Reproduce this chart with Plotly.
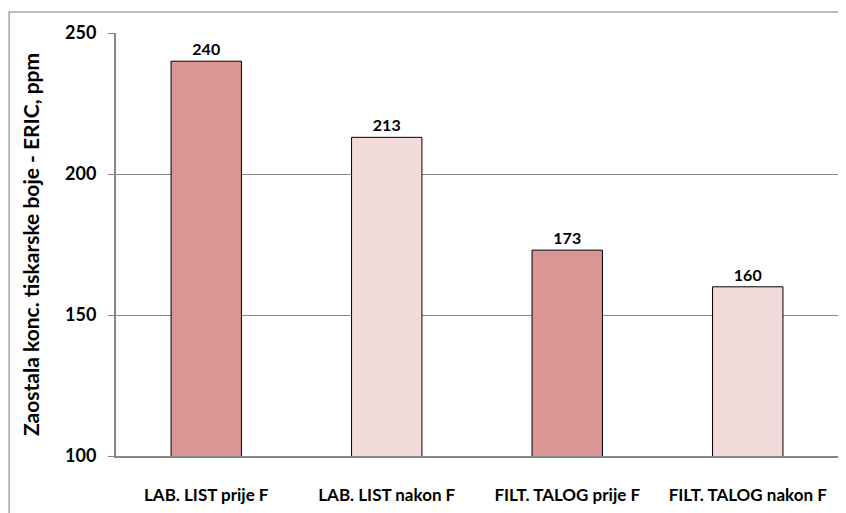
import plotly.graph_objects as go

categories = ['LAB. LIST prije F', 'LAB. LIST nakon F', 'FILT. TALOG prije F', 'FILT. TALOG nakon F']
values = [240, 213, 173, 160]
colors = ['#D99694', '#F2DCDB', '#D99694', '#F2DCDB']
y_ticks = [100, 150, 200, 250]

font = 'Lato, Carlito, Calibri, sans-serif'

fig = go.Figure(go.Bar(
    x=categories, y=values,
    marker=dict(color=colors, line=dict(color='black', width=1)),
    width=0.39,
    text=[str(v) for v in values], textposition='outside',
    textfont=dict(family=font, size=16, color='black', weight='bold'),
    cliponaxis=False,
))

# page body has an 8px margin, so the figure is a bit smaller than the window
fig.update_layout(
    width=838, height=505,
    margin=dict(l=108, r=8, t=25, b=57, autoexpand=False),
    plot_bgcolor='white', paper_bgcolor='white',
    font=dict(family=font, size=14, color='black', weight='bold'),
    showlegend=False,
    shapes=[dict(type='rect', xref='paper', yref='paper',
                 x0=-0.148, x1=1.2, y0=-0.3, y1=1.0496,
                 line=dict(color='#A6A6A6', width=1.5), layer='below')],
)
fig.update_yaxes(range=[100, 250], tickvals=y_ticks, showgrid=True, gridcolor='#868686', gridwidth=1,
                 showline=True, linecolor='#868686', linewidth=2, ticks='outside', ticklen=6, tickcolor='#868686',
                 zeroline=False, ticklabelstandoff=8,
                 title=dict(text='Zaostala konc. tiskarske boje - ERIC, ppm', standoff=20,
                            font=dict(family=font, size=21, color='black', weight='bold')),
                 tickfont=dict(family=font, size=18, color='black', weight='bold'))
fig.update_xaxes(showline=True, linecolor='#868686', linewidth=2, ticks='', ticklabelstandoff=23,
                 tickfont=dict(family=font, size=17, color='black', weight='bold'))

fig.write_html('out.html')
